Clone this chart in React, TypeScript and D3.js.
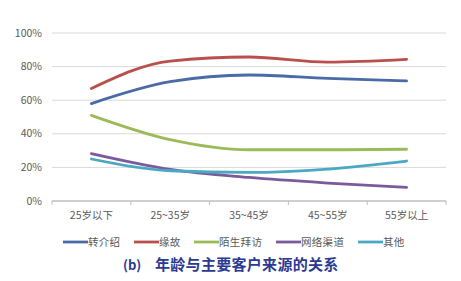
import React from "react";
import * as d3 from "d3";

const categories = ["25岁以下", "25~35岁", "35~45岁", "45~55岁", "55岁以上"];
const seriesNames = ["转介绍", "缘故", "陌生拜访", "网络渠道", "其他"];
const referral = [58, 71, 75, 73, 71.5];
const relatives = [67, 83.3, 85.7, 82.7, 84.3];
const coldCall = [51, 36.5, 30.5, 30.5, 30.8];
const online = [28.2, 18.8, 14, 10.7, 8.1];
const other = [25, 18, 17, 19, 23.8];
const yTicks = [0, 20, 40, 60, 80, 100];
const colors = ["#4A6BA6", "#B9504D", "#9BBB59", "#7B5A9C", "#4BA8C2"];
const titleLabel = "(b)";
const title = "年龄与主要客户来源的关系";

const seriesValues = [referral, relatives, coldCall, online, other];

export default function App() {
  const W = 461, H = 281;
  const left = 52, right = 446, top = 33, bottom = 201;
  const x = d3.scaleBand<string>().domain(categories).range([left, right]);
  const y = d3.scaleLinear().domain([0, 100]).range([bottom, top]);
  const line = d3
    .line<number>()
    .x((_, i) => (x(categories[i]) as number) + x.bandwidth() / 2)
    .y((d) => y(d))
    .curve(d3.curveMonotoneX);
  const font = "'Noto Sans CJK SC', 'Noto Sans', sans-serif";
  const charW = 11;
  let lx = 63;
  const legendItems = seriesNames.map((n, i) => {
    const item = { n, x: lx, c: colors[i] };
    lx += 25 + n.length * charW + 13;
    return item;
  });
  return (
    <svg width={W} height={H} style={{ position: "absolute", left: 0, top: 0, background: "#fff" }}>
      {yTicks.map((t) => (
        <g key={t}>
          <line x1={left} x2={right} y1={y(t)} y2={y(t)} stroke={t === 0 ? "#BFBFBF" : "#D9D9D9"} strokeWidth={t === 0 ? 1.5 : 1} />
          <text x={42} y={y(t)} dy="0.35em" textAnchor="end" fontSize={10.5} fill="#595959" fontFamily={font}>
            {t}%
          </text>
        </g>
      ))}
      {d3.range(categories.length + 1).map((i) => {
        const xx = left + i * x.bandwidth();
        return <line key={i} x1={xx} x2={xx} y1={bottom} y2={bottom + 4} stroke="#BFBFBF" />;
      })}
      {categories.map((c) => (
        <text key={c} x={(x(c) as number) + x.bandwidth() / 2} y={215} dy="0.35em" textAnchor="middle" fontSize={10.5} fill="#595959" fontFamily={font}>
          {c}
        </text>
      ))}
      {seriesValues.map((vals, i) => (
        <path key={i} d={line(vals) || ""} fill="none" stroke={colors[i]} strokeWidth={2.8} strokeLinecap="round" />
      ))}
      {legendItems.map((it) => (
        <g key={it.n}>
          <line x1={it.x} x2={it.x + 25} y1={242} y2={242} stroke={it.c} strokeWidth={2.8} />
          <text x={it.x + 25} y={242} dy="0.35em" fontSize={10.5} letterSpacing={0.3} fill="#595959" fontFamily={font}>
            {it.n}
          </text>
        </g>
      ))}
      <text x={123} y={265} dy="0.35em" fontSize={13} fontWeight="bold" fill="#2B3990" fontFamily={font}>
        {titleLabel}
      </text>
      <text x={155} y={265} dy="0.35em" fontSize={15} letterSpacing={0.3} fontWeight="bold" fill="#2B3990" fontFamily={font}>
        {title}
      </text>
    </svg>
  );
}
